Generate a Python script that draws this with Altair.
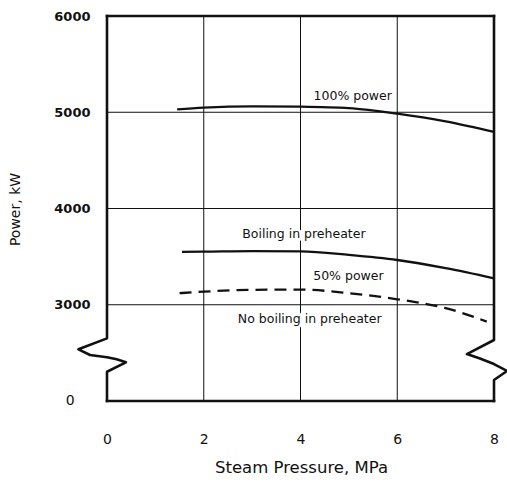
import altair as alt
import pandas as pd

# --- data ---
pressure_100 = [1.45, 2, 3, 4, 5, 6, 7, 8]
power_100 = [5030, 5048, 5062, 5058, 5042, 4985, 4905, 4795]

pressure_boil = [1.55, 2, 3, 4, 5, 6, 7, 8]
power_boil = [3550, 3552, 3558, 3555, 3518, 3465, 3380, 3275]

pressure_noboil = [1.5, 2, 3, 4, 5, 6, 7, 7.85]
power_noboil = [3120, 3136, 3155, 3158, 3120, 3057, 2965, 2825]

x_ticks = [0, 2, 4, 6, 8]
y_ticks = [3000, 4000, 5000, 6000]
grid_x = [2, 4, 6]
grid_y = [3000, 4000, 5000]

label_text = ["100% power", "Boiling in preheater", "50% power", "No boiling in preheater"]
label_x = [5.08, 4.07, 4.99, 4.19]
label_y = [5127, 3694, 3257, 2810]

# broken-axis frame (axis break zig-zags on left and right borders)
left_x = [0, 0, -0.59, -0.35, 0.0, 0.2, 0.39, 0, 0]
left_y = [6000, 2651, 2537, 2478, 2454, 2433, 2402, 2304, 2000]
right_x = [8, 8, 7.44, 7.71, 8.0, 8.27, 8, 8]
right_y = [6000, 2634, 2488, 2442, 2384, 2312, 2218, 2000]

FONT = "DejaVu Sans"
INK = "#111111"

x_enc = alt.X(
    "x:Q",
    scale=alt.Scale(domain=[0, 8], nice=False, zero=False),
    axis=alt.Axis(
        values=x_ticks, grid=False, domain=False, ticks=False, labelFlush=False,
        labelPadding=31, labelFont=FONT, labelFontSize=14, labelColor=INK,
        title="Steam Pressure, MPa", titleFont=FONT, titleFontSize=16.5,
        titleFontWeight="normal", titleColor=INK, titleX=194, titleY=66,
        titleAlign="center", titleBaseline="middle",
    ),
)
y_enc = alt.Y(
    "y:Q",
    scale=alt.Scale(domain=[2000, 6000], nice=False, zero=False),
    axis=alt.Axis(
        values=y_ticks, format="d", grid=False, domain=False, ticks=False,
        labelFlush=False,
        labelPadding=17, labelFont=FONT, labelFontSize=13, labelFontWeight="bold",
        labelColor=INK,
        title="Power, kW", titleFont=FONT, titleFontSize=14,
        titleFontWeight="normal", titleColor=INK, titleX=-92, titleY=193,
        titleAngle=270, titleAlign="center", titleBaseline="middle",
    ),
)

vgrid = pd.DataFrame({"x": grid_x, "y": [2000] * len(grid_x), "y2": [6000] * len(grid_x)})
hgrid = pd.DataFrame({"y": grid_y, "x": [0] * len(grid_y), "x2": [8] * len(grid_y)})

vrules = alt.Chart(vgrid).mark_rule(color=INK, strokeWidth=1).encode(x=x_enc, y=y_enc, y2="y2:Q")
hrules = alt.Chart(hgrid).mark_rule(color=INK, strokeWidth=1).encode(y=y_enc, x=x_enc, x2="x2:Q")

curves = pd.concat([
    pd.DataFrame({"x": pressure_100, "y": power_100, "s": "p100", "o": range(len(pressure_100))}),
    pd.DataFrame({"x": pressure_boil, "y": power_boil, "s": "boil", "o": range(len(pressure_boil))}),
])
solid = alt.Chart(curves).mark_line(color=INK, strokeWidth=2.3, interpolate="monotone").encode(
    x=x_enc, y=y_enc, detail="s:N", order="o:Q"
)
dashed_df = pd.DataFrame({"x": pressure_noboil, "y": power_noboil})
dashed = alt.Chart(dashed_df).mark_line(
    color=INK, strokeWidth=2.3, strokeDash=[12, 7], interpolate="monotone"
).encode(x=x_enc, y=y_enc)

labels_df = pd.DataFrame({"x": label_x, "y": label_y, "t": label_text})
halo = alt.Chart(labels_df).mark_text(
    font=FONT, fontSize=12.5, align="center", baseline="alphabetic",
    color="white", stroke="white", strokeWidth=5,
).encode(x=x_enc, y=y_enc, text="t:N")
labels = alt.Chart(labels_df).mark_text(
    font=FONT, fontSize=12.5, align="center", baseline="alphabetic", color=INK,
).encode(x=x_enc, y=y_enc, text="t:N")

zero_df = pd.DataFrame({"x": [-0.76], "y": [2000], "t": ["0"]})
zero_lbl = alt.Chart(zero_df).mark_text(
    font=FONT, fontSize=14, align="center", baseline="middle", color=INK,
).encode(x=x_enc, y=y_enc, text="t:N")

frame_df = pd.concat([
    pd.DataFrame({"x": [0, 8], "y": [6000, 6000], "s": "top", "o": [0, 1]}),
    pd.DataFrame({"x": [0, 8], "y": [2000, 2000], "s": "bottom", "o": [0, 1]}),
    pd.DataFrame({"x": left_x, "y": left_y, "s": "left", "o": range(len(left_x))}),
    pd.DataFrame({"x": right_x, "y": right_y, "s": "right", "o": range(len(right_x))}),
])
frame = alt.Chart(frame_df).mark_line(
    color=INK, strokeWidth=2.6, strokeJoin="round", strokeCap="square"
).encode(x=x_enc, y=y_enc, detail="s:N", order="o:Q")

chart = alt.layer(vrules, hrules, solid, dashed, halo, labels, zero_lbl, frame).properties(
    width=387, height=385,
    autosize=alt.AutoSizeParams(type="none"),
    padding={"left": 107, "top": 16, "right": 13, "bottom": 81},
    background="white",
).configure_view(stroke=None)

chart.save("out.html", embed_options={"renderer": "svg", "actions": False})
